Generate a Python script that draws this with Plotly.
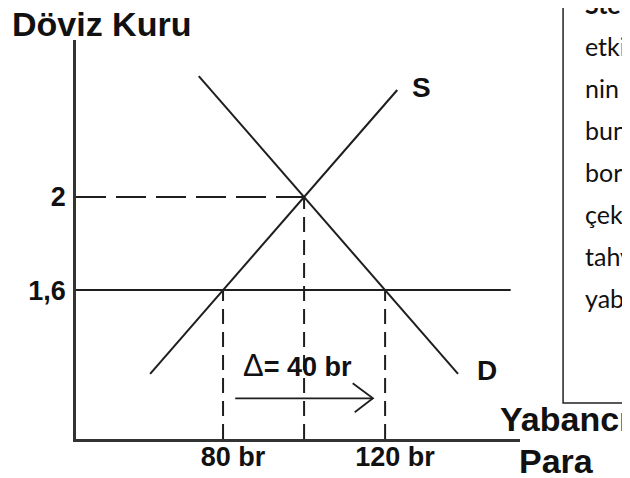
import plotly.graph_objects as go

# Veriler
x_ticks = [80, 120]
x_tick_labels = ["80 br", "120 br"]
y_ticks = [1.6, 2]
y_tick_labels = ["1,6", "2"]

supply_x = [62, 123]
supply_y = [1.24, 2.46]
demand_x = [74, 138]
demand_y = [2.52, 1.24]

eq_q = 100
eq_rate = 2
rate_low = 1.6
q_low = 80
q_high = 120
rate_line_end = 151

arrow_x = [83, 117]
arrow_y = 1.135
delta_text = "<span style='font-size:31px'>Δ</span><b>= 40 br</b>"

box_lines = ["<b>Sterilizasyon</b>", "etkisi", "nin m", "bunu", "borçlanma",
             "çekme", "tahvil", "yabancı"]

x_range = [43.7, 153.3]
y_range = [0.96, 2.675]

LINE = "#1e1e1e"
FONT = "Liberation Sans"

fig = go.Figure()

# arz ve talep eğrileri
fig.add_trace(go.Scatter(x=supply_x, y=supply_y, mode="lines",
                         line=dict(color=LINE, width=2)))
fig.add_trace(go.Scatter(x=demand_x, y=demand_y, mode="lines",
                         line=dict(color=LINE, width=2)))

# 1,6 seviyesindeki düz çizgi
fig.add_trace(go.Scatter(x=[x_range[0], rate_line_end], y=[rate_low, rate_low],
                         mode="lines", line=dict(color=LINE, width=2)))

# denge kesikli çizgileri
fig.add_trace(go.Scatter(x=[x_range[0], eq_q], y=[eq_rate, eq_rate], mode="lines",
                         line=dict(color=LINE, width=2, dash="30px,10px")))
fig.add_trace(go.Scatter(x=[eq_q, eq_q], y=[y_range[0], eq_rate], mode="lines",
                         line=dict(color=LINE, width=2, dash="15px,8px")))
for q in (q_low, q_high):
    fig.add_trace(go.Scatter(x=[q, q], y=[y_range[0], rate_low], mode="lines",
                             line=dict(color=LINE, width=2, dash="15px,8px")))

# ok (açık uçlu)
tip = arrow_x[1]
fig.add_trace(go.Scatter(
    x=[arrow_x[0], tip, None, tip - 5, tip, tip - 4.5],
    y=[arrow_y, arrow_y, None, arrow_y + 0.065, arrow_y, arrow_y - 0.06],
    mode="lines", line=dict(color=LINE, width=1.8)))

fig.update_traces(showlegend=False, hoverinfo="skip")

lbl = dict(family=FONT, size=28, color="#111", weight="bold")
big = dict(family=FONT, size=34, color="#111", weight="bold")
anns = [
    dict(x=-0.148, y=1.04, xref="paper", yref="paper", text="Döviz Kuru",
         xanchor="left", yanchor="middle", font=big),
    dict(x=129.1, y=2.473, text="S", xanchor="center", yanchor="middle", font=lbl),
    dict(x=145.2, y=1.256, text="D", xanchor="center", yanchor="middle", font=lbl),
    dict(x=98.4, y=1.277, text=delta_text, xanchor="center", yanchor="middle",
         font=dict(family=FONT, size=27, color="#111")),
    dict(x=0.95, y=0.05, xref="paper", yref="paper", text="Yabancı",
         xanchor="left", yanchor="middle", font=big),
    dict(x=0.993, y=-0.055, xref="paper", yref="paper", text="Para",
         xanchor="left", yanchor="middle", font=big),
]
for i, t in enumerate(box_lines):
    py = 4 + 42 * i
    anns.append(dict(x=1.142, y=(439 - py) / 399, xref="paper", yref="paper", text=t,
                     xanchor="left", yanchor="middle",
                     font=dict(family="Lato", size=25, color="#111")))
for a in anns:
    a["showarrow"] = False

tickfont = dict(family=FONT, size=27, color="#111", weight="bold")
# sayfa gövdesinin 8px kenar boşluğu hesaba katılarak kaydırıldı
fig.update_layout(
    width=630, height=478,
    margin=dict(l=68, r=118, t=32, b=47, autoexpand=False),
    plot_bgcolor="white", paper_bgcolor="white",
    annotations=anns,
    shapes=[dict(type="rect", xref="paper", yref="paper", x0=1.097, x1=2.0,
                 y0=0.09, y1=1.5, line=dict(color="#222", width=1.5))],
    xaxis=dict(range=x_range, showgrid=False, zeroline=False, showline=True,
               automargin=False,
               linecolor="#333", linewidth=2.5, tickmode="array", tickvals=x_ticks,
               ticktext=x_tick_labels, ticks="", ticklabelshift=10, ticklabelstandoff=-8,
               tickfont=tickfont),
    yaxis=dict(range=y_range, showgrid=False, zeroline=False, showline=True,
               automargin=False,
               linecolor="#333", linewidth=2.5, tickmode="array", tickvals=y_ticks,
               ticktext=y_tick_labels, ticks="", ticklabelstandoff=2,
               tickfont=tickfont),
)

fig.write_html("out.html")
